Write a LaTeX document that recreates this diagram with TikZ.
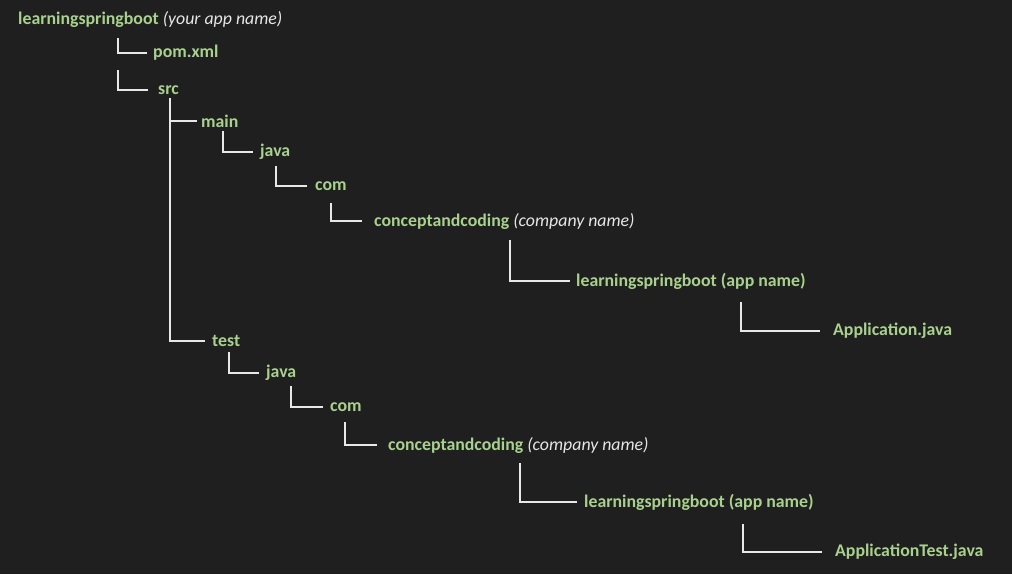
\documentclass[tikz,border=0pt]{standalone}
\usepackage{fontspec}
\setmainfont{Carlito}

\definecolor{bgdark}{HTML}{1F1F1F}
\definecolor{leafgreen}{HTML}{A9D18E}
\definecolor{notegray}{HTML}{E6E6E6}
\definecolor{linegray}{HTML}{E8E8E8}

\newcommand{\nameNote}[1]{{\normalfont\itshape\color{notegray}#1}}

\begin{document}
\begin{tikzpicture}
    [
        x=1pt, y=-1pt,
        folder/.style={anchor=west, inner sep=0pt, text=leafgreen,
            font=\fontsize{17.8}{20}\selectfont\bfseries},
        branch/.style={draw=linegray, line width=1.6pt, shorten >=7pt},
    ]
    \fill[bgdark] (0,0) rectangle (1012,574);

    \node (root) at (18,20) [folder] {learningspringboot \nameNote{(your app name)}};
    \node (pom) at (153,53) [folder] {pom.xml};
    \node (src) at (158,90) [folder] {src};

    % main branch
    \node (main) at (201,121) [folder] {main};
    \node (mjava) at (260,152) [folder] {java};
    \node (mcom) at (315,186) [folder] {com};
    \node (mcompany) at (374,221) [folder] {conceptandcoding \nameNote{(company name)}};
    \node (mapp) at (576,281) [folder] {learningspringboot (app name)};
    \node (mclass) at (833,331) [folder] {Application.java};

    % test branch
    \node (test) at (212,341) [folder] {test};
    \node (tjava) at (266,373) [folder] {java};
    \node (tcom) at (330,407) [folder] {com};
    \node (tcompany) at (388,445) [folder] {conceptandcoding \nameNote{(company name)}};
    \node (tapp) at (584,502) [folder] {learningspringboot (app name)};
    \node (tclass) at (835,552) [folder] {ApplicationTest.java};

    \coordinate (kpom) at (118,38);
    \coordinate (ksrc) at (118,70);
    \coordinate (ktrunk) at (170,98);
    \coordinate (kmjava) at (223,131);
    \coordinate (kmcom) at (276,166);
    \coordinate (kmcompany) at (331,203);
    \coordinate (kmapp) at (510,240);
    \coordinate (kmclass) at (741,302);
    \coordinate (ktjava) at (229,352);
    \coordinate (ktcom) at (291,386);
    \coordinate (ktcompany) at (345,422);
    \coordinate (ktapp) at (520,463);
    \coordinate (ktclass) at (743,524);

    \draw[branch, shorten >=6pt] (kpom) |- (pom.west);
    \draw[branch, shorten >=10pt] (ksrc) |- (src.west);
    \draw[branch, shorten >=4pt] (ktrunk) |- (main.west);
    \draw[branch] (ktrunk) |- (test.west);
    \draw[branch] (kmjava) |- (mjava.west);
    \draw[branch, shorten >=8pt] (kmcom) |- (mcom.west);
    \draw[branch, shorten >=12pt] (kmcompany) |- (mcompany.west);
    \draw[branch, shorten >=6pt] (kmapp) |- (mapp.west);
    \draw[branch, shorten >=13pt] (kmclass) |- (mclass.west);
    \draw[branch] (ktjava) |- (tjava.west);
    \draw[branch] (ktcom) |- (tcom.west);
    \draw[branch, shorten >=11pt] (ktcompany) |- (tcompany.west);
    \draw[branch] (ktapp) |- (tapp.west);
    \draw[branch, shorten >=13pt] (ktclass) |- (tclass.west);
\end{tikzpicture}
\end{document}
